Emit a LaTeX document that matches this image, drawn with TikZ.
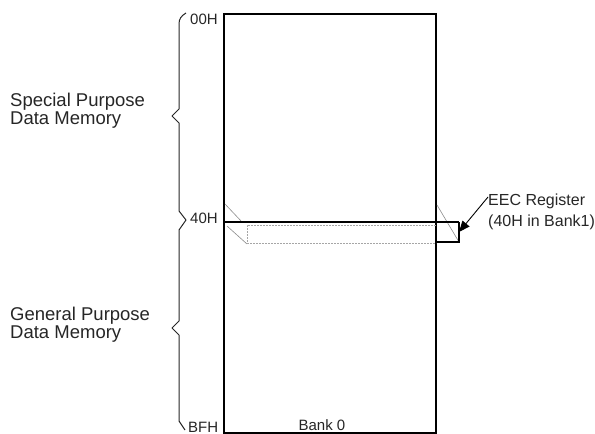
\documentclass[tikz,border=0pt]{standalone}
\usepackage{fontspec}
\setmainfont{Liberation Sans}
\usetikzlibrary{arrows.meta}
\begin{document}
\begin{tikzpicture}[x=1pt,y=-1pt,
  lbl/.style={font=\fontsize{15}{18}\selectfont, inner sep=0pt, text=black!85},
  biglbl/.style={lbl, font=\fontsize{18.5}{18}\selectfont, align=left},
  notelbl/.style={lbl, font=\fontsize{16}{21}\selectfont, align=left},
  frame/.style={draw=black, line width=1.1pt},
  bankline/.style={draw=black, line width=1.8pt},
  hidden/.style={draw=black!35, line width=0.6pt, dash pattern=on 2pt off 1pt},
  depth/.style={draw=black!45, line width=0.6pt},
  bracestyle/.style={draw=black!85, line width=1pt, line join=round},
  pointer/.style={draw=black, line width=0.9pt, -{Triangle[length=11pt,width=9pt]}}]
\useasboundingbox (0,0) rectangle (595,434);

% memory bank outline
\draw[frame] (224,14) rectangle (436,433);

% hidden register slab of bank 1
\draw[hidden] (436,225) -- (247,225) -- (247,243) -- (436,243);
\draw[depth] (225,204) -- (242,222);
\draw[depth] (227,226) -- (247,244);
\draw[depth] (437,205) -- (459,242);

% 40H boundary and the protruding register
\draw[bankline] (224,222) -- (459,222);
\draw[frame] (459,222) -- (459,242) -- (436,242);

% braces
\draw[bracestyle] (186,13) .. controls (181,16) and (179,19) .. (179,24)
  -- (179,109) -- (172,116) -- (179,123) -- (179,211) -- (186,220)
  -- (179,230) -- (179,321) -- (172,328) -- (179,335) -- (179,421) -- (185,430);

% labels
\node[biglbl, anchor=west] (spdm) at (10,111) {Special Purpose\\Data Memory};
\node[biglbl, anchor=west] (gpdm) at (10,325) {General Purpose\\Data Memory};
\node[lbl, anchor=west] (a00) at (190,19) {00H};
\node[lbl, anchor=west] (a40) at (190,218) {40H};
\node[lbl, anchor=west] (abf) at (188,427) {BFH};
\node[lbl, anchor=base] (bank) at (322,430) {Bank 0};
\node[notelbl, anchor=west] (eec) at (488,212) {EEC Register\\(40H in Bank1)};

% pointer to the register
\coordinate (eecTail) at (488,197);
\coordinate (eecTip) at (459,232);
\draw[pointer] (eecTail) -- (eecTip);
\end{tikzpicture}
\end{document}
